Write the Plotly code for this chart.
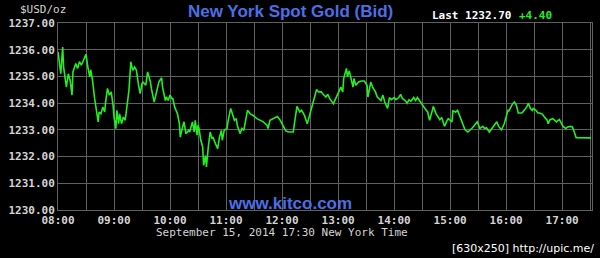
import plotly.graph_objects as go

day = "2014-09-15"
times = ["08:00","08:01","08:03","08:05","08:06","08:09","08:11","08:13","08:15","08:16",
"08:19","08:21","08:23","08:25","08:28","08:30","08:32","08:34","08:35","08:37",
"08:39","08:41","08:43","08:44","08:46","08:48","08:50","08:51","08:53","08:55",
"08:57","08:59","09:00","09:02","09:03","09:05","09:06","09:08","09:10","09:12",
"09:14","09:16","09:18","09:20","09:22","09:24","09:26","09:28","09:30","09:31",
"09:34","09:36","09:39","09:40","09:43","09:46","09:48","09:51","09:52","09:55",
"09:56","09:58","10:00","10:02","10:03","10:05","10:08","10:10","10:11","10:13",
"10:15","10:17","10:20","10:21","10:24","10:26","10:27","10:29","10:30","10:31",
"10:33","10:35","10:36","10:38","10:39","10:41","10:43","10:45","10:46","10:48",
"10:51","10:53","10:55","10:56","10:58","11:01","11:02","11:05","11:07","11:09",
"11:11","11:12","11:15","11:17","11:19","11:21","11:23","11:26","11:29","11:33",
"11:36","11:40","11:44","11:45","11:47","11:51","11:55","11:58","12:01","12:04",
"12:07","12:12","12:14","12:16","12:19","12:21","12:24","12:27","12:29","12:32",
"12:35","12:37","12:39","12:42","12:44","12:47","12:49","12:51","12:55","12:58",
"13:00","13:03","13:05","13:06","13:09","13:10","13:12","13:14","13:16","13:17",
"13:19","13:22","13:25","13:28","13:31","13:32","13:35","13:37","13:40","13:42",
"13:44","13:46","13:48","13:50","13:53","13:55","13:57","14:00","14:02","14:05",
"14:07","14:09","14:12","14:14","14:16","14:18","14:21","14:23","14:25","14:28",
"14:31","14:33","14:36","14:38","14:40","14:42","14:45","14:47","14:49","14:51",
"14:54","14:56","14:58","15:00","15:02","15:03","15:06","15:08","15:11","15:13",
"15:16","15:19","15:21","15:24","15:27","15:29","15:32","15:35","15:37","15:39",
"15:42","15:45","15:47","15:50","15:52","15:55","15:58","16:00","16:02","16:03",
"16:05","16:07","16:09","16:11","16:13","16:17","16:20","16:22","16:24","16:26",
"16:28","16:29","16:32","16:34","16:36","16:39","16:41","16:44","16:45","16:47",
"16:50","16:52","16:54","16:57","16:59","17:01","17:04","17:06","17:09","17:11",
"17:13","17:15","17:31"]
prices = [1235.92,1235.60,1235.10,1236.10,1235.35,1234.60,1235.10,1234.85,1234.30,1235.17,
1235.48,1235.30,1235.55,1235.42,1235.67,1235.83,1235.35,1234.98,1235.25,1234.85,
1234.23,1233.73,1233.30,1233.67,1233.60,1233.85,1233.67,1234.04,1234.55,1234.30,
1234.42,1233.92,1233.48,1233.05,1233.73,1233.23,1233.60,1233.23,1233.48,1233.36,
1233.85,1234.48,1235.55,1235.23,1235.35,1235.23,1234.73,1234.36,1234.73,1234.79,
1234.67,1235.17,1234.79,1234.55,1234.04,1234.55,1234.79,1234.95,1234.60,1234.10,
1234.23,1234.10,1234.30,1234.17,1234.17,1233.85,1233.60,1233.23,1232.73,1233.05,
1233.30,1232.86,1232.98,1232.92,1233.30,1232.92,1233.36,1232.80,1233.17,1233.05,
1232.61,1232.36,1231.67,1232.04,1231.61,1232.36,1232.92,1232.67,1232.73,1232.54,
1232.30,1232.73,1232.98,1232.61,1232.98,1233.05,1233.30,1233.80,1233.54,1233.36,
1233.42,1233.17,1232.86,1233.05,1232.98,1233.30,1233.73,1233.60,1233.54,1233.42,
1233.36,1233.30,1233.17,1233.05,1233.36,1233.42,1233.50,1233.36,1233.17,1232.96,
1232.92,1232.92,1233.42,1233.88,1233.67,1233.73,1233.54,1233.23,1233.48,1233.85,
1234.17,1234.51,1234.42,1234.42,1234.33,1234.23,1234.33,1234.17,1233.98,1234.23,
1234.42,1234.60,1234.42,1234.92,1235.30,1234.98,1235.21,1234.92,1234.60,1234.92,
1234.67,1234.79,1234.83,1234.83,1234.67,1234.23,1234.79,1234.60,1234.42,1234.23,
1234.17,1234.10,1234.30,1234.04,1233.80,1234.21,1234.13,1234.21,1234.13,1234.21,
1234.33,1234.17,1234.10,1234.00,1234.13,1234.07,1234.21,1234.10,1234.21,1234.04,
1233.92,1233.80,1233.67,1233.36,1233.60,1233.88,1233.60,1233.46,1233.38,1233.46,
1233.13,1233.30,1233.42,1233.36,1233.30,1233.71,1233.67,1233.73,1233.46,1233.23,
1233.00,1232.92,1232.98,1233.08,1233.21,1233.30,1233.05,1233.13,1233.05,1233.08,
1232.92,1233.05,1233.17,1233.30,1233.13,1233.00,1233.23,1233.50,1233.73,1233.71,
1233.85,1233.98,1234.04,1233.92,1233.63,1233.63,1233.76,1233.85,1234.00,1233.80,
1233.73,1233.80,1233.73,1233.63,1233.63,1233.58,1233.48,1233.36,1233.23,1233.38,
1233.42,1233.36,1233.30,1233.39,1233.23,1233.13,1233.05,1233.11,1233.13,1233.11,
1232.92,1232.71,1232.70]

x = [f"{day} {t}" for t in times]

GRID = "#606060"
MONO = "DejaVu Sans Mono"
LABEL = "#d4d4d4"
BLUE = "#4b6fe6"

fig = go.Figure()
fig.add_trace(go.Scatter(x=x, y=prices, mode="lines",
                         line=dict(color="#22ee22", width=1.6), hoverinfo="skip"))

fig.update_layout(
    width=600, height=258,
    margin=dict(l=58, r=8, t=23, b=48),
    paper_bgcolor="black", plot_bgcolor="black",
    showlegend=False,
    xaxis=dict(
        type="date",
        range=[f"{day} 08:00", f"{day} 17:32"],
        dtick=3600000, tick0=f"{day} 08:00", tickformat="%H:%M",
        showgrid=True, gridcolor=GRID, gridwidth=1,
        minor=dict(dtick=1800000, showgrid=True, gridcolor=GRID, gridwidth=1),
        showline=True, linecolor=GRID, linewidth=1, mirror=True,
        ticks="", zeroline=False,
        tickfont=dict(family=MONO, size=11, color=LABEL, weight="bold"),
    ),
    yaxis=dict(
        range=[1230, 1237], dtick=1, tick0=1230, tickformat=".2f",
        showgrid=True, gridcolor=GRID, gridwidth=1,
        showline=True, linecolor=GRID, linewidth=1, mirror=True,
        ticks="", zeroline=False,
        tickfont=dict(family=MONO, size=11, color=LABEL, weight="bold"),
    ),
)

ann = [
    dict(text="$USD/oz", x=18, y=10, xanchor="left", font=dict(family=MONO, size=11, color=LABEL)),
    dict(text="<b>New York Spot Gold (Bid)</b>", x=290, y=12, xanchor="center",
         font=dict(family="Liberation Sans", size=17, color=BLUE)),
    dict(text="<b>Last 1232.70</b>", x=430, y=15, xanchor="left",
         font=dict(family=MONO, size=11, color="white")),
    dict(text="<b>+4.40</b>", x=517, y=15, xanchor="left",
         font=dict(family=MONO, size=11, color="#22ee22")),
    dict(text="<b>www.kitco.com</b>", x=290, y=203, xanchor="center",
         font=dict(family="Liberation Sans", size=17, color=BLUE)),
    dict(text="September 15, 2014 17:30 New York Time", x=282, y=232, xanchor="center",
         font=dict(family=MONO, size=11, color=LABEL)),
    dict(text="[630x250] http://upic.me/", x=596, y=248, xanchor="right",
         font=dict(family="DejaVu Sans", size=11, color="white")),
]
for a in ann:
    fig.add_annotation(xref="paper", yref="paper", showarrow=False, yanchor="middle",
                       text=a["text"], x=(a["x"] - 58) / 534, y=(210 - a["y"]) / 187,
                       xanchor=a["xanchor"], font=a["font"])

fig.write_html("out.html")
